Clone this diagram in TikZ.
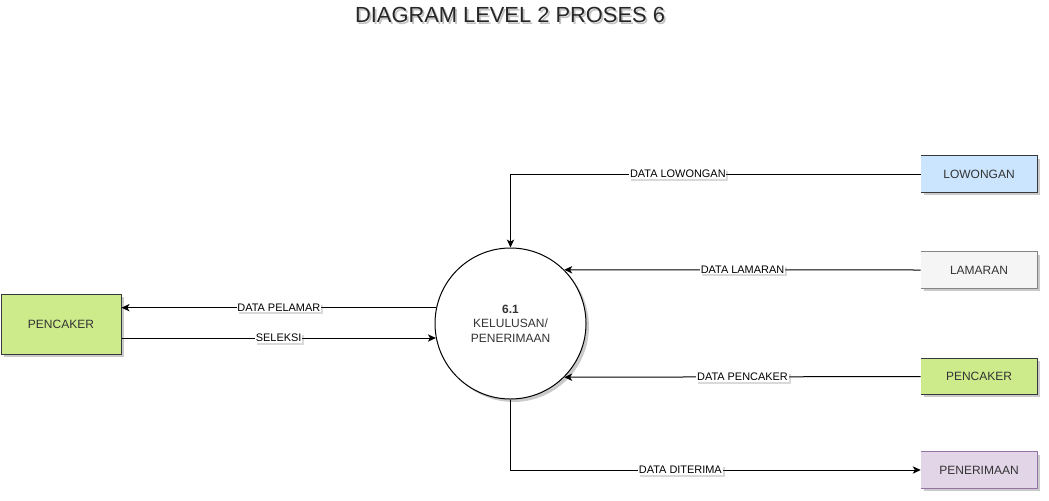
\documentclass[tikz,border=0pt]{standalone}
\usepackage{fontspec}
\setmainfont{Liberation Sans}
\usetikzlibrary{arrows.meta,shadows}
\definecolor{bluef}{HTML}{CCE5FF}
\definecolor{blued}{HTML}{36393D}
\definecolor{grayf}{HTML}{F5F5F5}
\definecolor{grayd}{HTML}{666666}
\definecolor{greenf}{HTML}{CDEB8B}
\definecolor{purpf}{HTML}{E1D5E7}
\definecolor{purpd}{HTML}{9673A6}
\definecolor{txt}{HTML}{333333}
\tikzset{
  shd/.style={drop shadow={shadow xshift=2.2pt,shadow yshift=-2.2pt,opacity=0.35,fill=black!60}},
  store/.style={rectangle,minimum width=87pt,minimum height=27pt,inner sep=0pt,font=\fontsize{9pt}{10pt}\selectfont,text=txt,shd},
  ext/.style={rectangle,draw=blued,line width=0.75pt,fill=greenf,minimum width=90pt,minimum height=45pt,inner sep=0pt,font=\fontsize{9pt}{10pt}\selectfont,text=txt,shd},
  proc/.style={circle,draw=black,line width=0.75pt,fill=white,minimum size=113.25pt,inner sep=0pt,align=center,font=\fontsize{9pt}{10.8pt}\selectfont,text=txt,shd},
  flow/.style={draw=black,line width=0.75pt,-{Stealth[length=6pt,width=5.5pt,inset=1.6pt]}},
  lbl/.style={fill=white,inner sep=0.6pt,font=\fontsize{8.2pt}{9pt}\selectfont,text=black,drop shadow={shadow xshift=1.5pt,shadow yshift=-1.5pt,opacity=0.25,fill=black!60}},
  ttl/.style={font=\fontsize{16.4pt}{19pt}\selectfont},
}
\begin{document}
\begin{tikzpicture}[x=0.75pt,y=-0.75pt]
\useasboundingbox (0,0) rectangle (1049,500);
% title
\node[ttl,text=black!40,opacity=0.6] at (511.8,16.8) {DIAGRAM LEVEL 2 PROSES 6};
\node[ttl,text=black!85] (title) at (510,15) {DIAGRAM LEVEL 2 PROSES 6};
% process
\node[proc] (c) at (510.5,323.5) {\textbf{6.1}\\KELULUSAN/\\PENERIMAAN};
% external entity
\node[ext] (pl) at (61,324) {PENCAKER};
% data stores
\node[store,fill=bluef] (lw) at (979,174) {LOWONGAN};
\draw[blued,line width=0.75pt] (lw.north west) -- (lw.north east) -- (lw.south east) -- (lw.south west);
\node[store,fill=grayf] (lm) at (979,270) {LAMARAN};
\draw[grayd!80,line width=0.75pt] (lm.north west) -- (lm.north east) -- (lm.south east) -- (lm.south west);
\node[store,fill=greenf] (pc) at (979,376.5) {PENCAKER};
\draw[blued,line width=0.75pt] (pc.north west) -- (pc.north east) -- (pc.south east) -- (pc.south west);
\node[store,fill=purpf] (pn) at (979,470) {PENERIMAAN};
\draw[purpd,line width=0.75pt] (pn.north west) -- (pn.north east) -- (pn.south east) -- (pn.south west);
% flows
\draw[flow] (lw.west) -| node[lbl,pos=0.296] {DATA LOWONGAN} (c.north);
\draw[flow] (lm.west) -- node[lbl] {DATA LAMARAN} (c.45);
\draw[flow] (pc.west) -- node[lbl] {DATA PENCAKER} (c.-45.4);
\draw[flow] (c.south) |- node[lbl,pos=0.707] {DATA DITERIMA} (pn.west);
\draw[flow] (c.168.9) -- node[lbl] {DATA PELAMAR} (pl.east |- c.168.9);
\draw[flow] (pl.east |- c.191.9) -- node[lbl] {SELEKSI} (c.191.9);
\end{tikzpicture}
\end{document}
